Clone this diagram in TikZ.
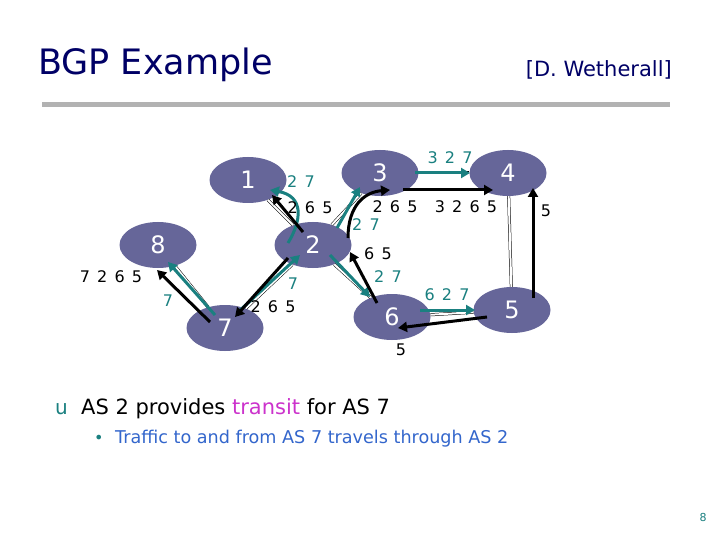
\documentclass[tikz,border=0pt]{standalone}
\usepackage{fontspec}
\setmainfont{DejaVu Sans}
\usetikzlibrary{arrows.meta,shapes.geometric}
\definecolor{nodefill}{HTML}{666699}
\definecolor{tealc}{HTML}{1A8080}
\definecolor{titlec}{HTML}{000066}
\definecolor{magc}{HTML}{CC33CC}
\definecolor{bluec}{HTML}{3366CC}
\newcommand\mylabfont{\fontsize{16}{16}\selectfont\spaceskip=0.45em plus 0pt minus 0pt\relax}
\begin{document}
\begin{tikzpicture}[x=1pt,y=-1pt,
  asnode/.style={ellipse,fill=nodefill,minimum width=77pt,minimum height=46pt,inner sep=0pt,text=white,font=\fontsize{24}{24}\selectfont},
  link/.style={draw=black,double=white,double distance=2pt,line width=0.5pt},
  tarr/.style={draw=tealc,line width=3pt,-{Triangle[length=9pt,width=10pt]}},
  barr/.style={draw=black,line width=3pt,-{Triangle[length=9pt,width=10pt]}},
  lab/.style={font=\mylabfont,inner sep=0pt},
  tlab/.style={lab,text=tealc}]
\useasboundingbox (0,0) rectangle (720,540);
\fill[white] (0,0) rectangle (720,540);
\node[anchor=west,text=titlec,font=\fontsize{35}{35}\selectfont,inner sep=0pt] (title) at (38,65) {BGP Example};
\node[anchor=east,text=titlec,font=\fontsize{21}{21}\selectfont,inner sep=0pt] (cred) at (672,70) {[D. Wetherall]};
\fill[gray!60] (42,102) rectangle (670,107);
% nodes
\node[asnode] (n1) at (248,180) {1};
\node[asnode] (n3) at (380,173) {3};
\node[asnode] (n4) at (508,173) {4};
\node[asnode] (n8) at (158,245) {8};
\node[asnode] (n2) at (313,245) {2};
\node[asnode] (n7) at (225,328) {7};
\node[asnode] (n6) at (392,317) {6};
\node[asnode] (n5) at (512,310) {5};
% links
\path[link] (n1) -- (n2);
\path[link] (n2) -- (n3);
\path[link] (n2) -- (n7);
\path[link] (n2) -- (n6);
\path[link] (n7) -- (n8);
\path[link] (n3) -- (n4);
\path[link] (n4) -- (n5);
\path[link] (n5) -- (n6);
% coordinates for arrows
\coordinate (a1s) at (288,243); \coordinate (a1e) at (270,190);
\coordinate (a2s) at (303,232); \coordinate (a2e) at (272,195);
\coordinate (a3s) at (337,228); \coordinate (a3e) at (360,187);
\coordinate (a4s) at (348,238); \coordinate (a4e) at (390,190);
\coordinate (a5s) at (330,255); \coordinate (a5e) at (370,297);
\coordinate (a6s) at (377,303); \coordinate (a6e) at (350,252);
\coordinate (a7s) at (237,313); \coordinate (a7e) at (300,255);
\coordinate (a8s) at (288,258); \coordinate (a8e) at (235,317);
\coordinate (a9s) at (215,315); \coordinate (a9e) at (168,262);
\coordinate (a10s) at (210,322); \coordinate (a10e) at (157,270);
\coordinate (a11s) at (415,173); \coordinate (a11e) at (470,173);
\coordinate (a12s) at (403,190); \coordinate (a12e) at (493,190);
\coordinate (a13s) at (533,298); \coordinate (a13e) at (533,188);
\coordinate (a14s) at (420,310); \coordinate (a14e) at (475,310);
\coordinate (a15s) at (487,317); \coordinate (a15e) at (398,328);
\draw[tarr] (a1s) .. controls (302,220) and (304,196) .. (a1e);
\draw[barr] (a2s) -- (a2e);
\draw[tarr] (a3s) -- (a3e);
\draw[barr] (a4s) .. controls (348,205) and (365,192) .. (a4e);
\draw[tarr] (a5s) -- (a5e);
\draw[barr] (a6s) -- (a6e);
\draw[tarr] (a7s) -- (a7e);
\draw[barr] (a8s) -- (a8e);
\draw[tarr] (a9s) -- (a9e);
\draw[barr] (a10s) -- (a10e);
\draw[tarr] (a11s) -- (a11e);
\draw[barr] (a12s) -- (a12e);
\draw[barr] (a13s) -- (a13e);
\draw[tarr] (a14s) -- (a14e);
\draw[barr] (a15s) -- (a15e);
% labels
\node[tlab] (l1) at (301,182) {2 7};
\node[lab] (l2) at (310,208) {2 6 5};
\node[tlab] (l3) at (450,158) {3 2 7};
\node[lab] (l4) at (395,207) {2 6 5};
\node[lab] (l5) at (466,207) {3 2 6 5};
\node[tlab] (l6) at (366,225) {2 7};
\node[lab] (l7) at (546,211) {5};
\node[lab] (l8) at (378,254) {6 5};
\node[tlab] (l9) at (388,277) {2 7};
\node[tlab] (l10) at (447,295) {6 2 7};
\node[lab] (l11) at (401,350) {5};
\node[lab] (l12) at (111,277) {7 2 6 5};
\node[tlab] (l13) at (168,301) {7};
\node[tlab] (l14) at (293,284) {7};
\node[lab] (l15) at (273,307) {2 6 5};
% text
\node[anchor=west,inner sep=0pt,text=tealc,font=\fontsize{20}{20}\selectfont] (b1) at (55,409) {u};
\node[anchor=west,inner sep=0pt,font=\fontsize{21}{21}\selectfont] (t1) at (81,409) {AS 2 provides \textcolor{magc}{transit} for AS 7};
\node[anchor=west,inner sep=0pt,text=tealc,font=\fontsize{16}{16}\selectfont] (b2) at (94,439) {•};
\node[anchor=west,inner sep=0pt,text=bluec,font=\fontsize{17.6}{17.6}\selectfont] (t2) at (115,439) {Traffic to and from AS 7 travels through AS 2};
\node[inner sep=0pt,text=tealc,font=\fontsize{11}{11}\selectfont] (pg) at (703,517) {8};
\end{tikzpicture}
\end{document}
